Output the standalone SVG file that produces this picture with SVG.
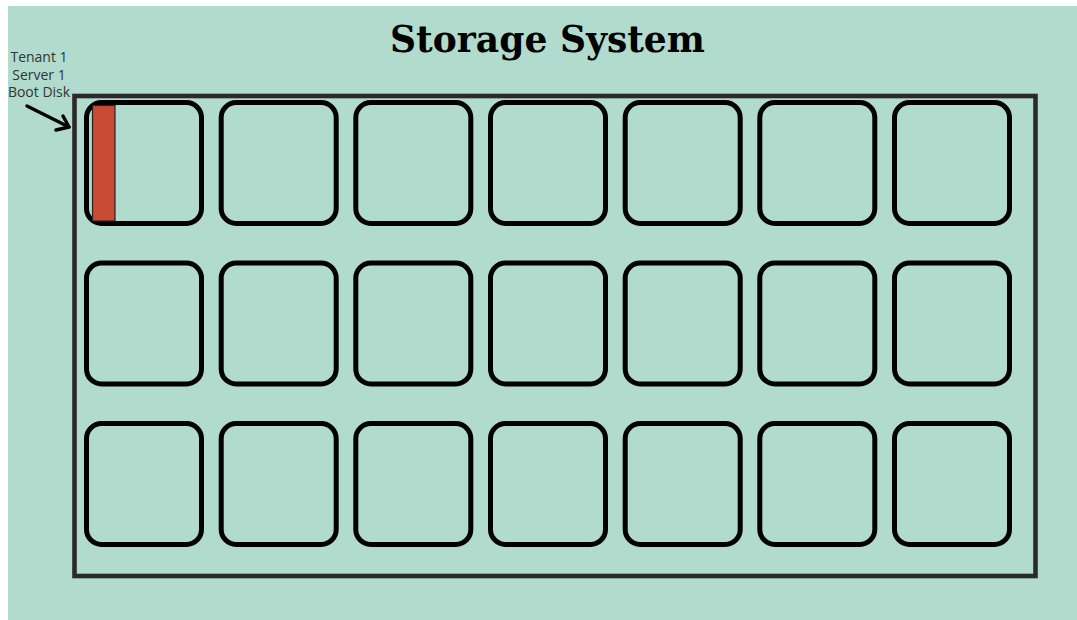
<svg xmlns="http://www.w3.org/2000/svg" width="1077" height="620" viewBox="0 0 1077 620">
  <style>
    .bay { fill: none; stroke: #000; stroke-width: 5; }
    .frame { fill: none; stroke: #2b2929; stroke-width: 4.6; }
    .title { font-family: "DejaVu Serif", "Liberation Serif", serif; font-weight: bold; font-size: 37px; fill: #000; }
    .label { font-family: "Open Sans", "Liberation Sans", sans-serif; font-size: 14px; fill: #333; text-anchor: middle; }
    .arrow { fill: none; stroke: #000; stroke-width: 3.4; stroke-linecap: round; stroke-linejoin: round; }
  </style>
  <defs>
    <rect id="bay" class="bay" width="115" height="121" rx="15" ry="15"/>
  </defs>

  <rect x="0" y="0" width="1077" height="620" fill="#ffffff"/>
  <rect x="8" y="6" width="1069" height="614" fill="#b1dbcc"/>

  <text class="title" x="390" y="52" textLength="315" lengthAdjust="spacingAndGlyphs">Storage System</text>

  <!-- enclosure -->
  <g id="enclosure">
    <rect class="frame" x="74.5" y="96" width="961" height="480"/>
  </g>

  <!-- row 1 -->
  <g id="bay-1-1"><use href="#bay" x="86.5" y="102.5"/></g>
  <g id="bay-1-2"><use href="#bay" x="221.2" y="102.5"/></g>
  <g id="bay-1-3"><use href="#bay" x="355.8" y="102.5"/></g>
  <g id="bay-1-4"><use href="#bay" x="490.5" y="102.5"/></g>
  <g id="bay-1-5"><use href="#bay" x="625.2" y="102.5"/></g>
  <g id="bay-1-6"><use href="#bay" x="759.8" y="102.5"/></g>
  <g id="bay-1-7"><use href="#bay" x="894.5" y="102.5"/></g>
  <!-- row 2 -->
  <g id="bay-2-1"><use href="#bay" x="86.5" y="263"/></g>
  <g id="bay-2-2"><use href="#bay" x="221.2" y="263"/></g>
  <g id="bay-2-3"><use href="#bay" x="355.8" y="263"/></g>
  <g id="bay-2-4"><use href="#bay" x="490.5" y="263"/></g>
  <g id="bay-2-5"><use href="#bay" x="625.2" y="263"/></g>
  <g id="bay-2-6"><use href="#bay" x="759.8" y="263"/></g>
  <g id="bay-2-7"><use href="#bay" x="894.5" y="263"/></g>
  <!-- row 3 -->
  <g id="bay-3-1"><use href="#bay" x="86.5" y="423.5"/></g>
  <g id="bay-3-2"><use href="#bay" x="221.2" y="423.5"/></g>
  <g id="bay-3-3"><use href="#bay" x="355.8" y="423.5"/></g>
  <g id="bay-3-4"><use href="#bay" x="490.5" y="423.5"/></g>
  <g id="bay-3-5"><use href="#bay" x="625.2" y="423.5"/></g>
  <g id="bay-3-6"><use href="#bay" x="759.8" y="423.5"/></g>
  <g id="bay-3-7"><use href="#bay" x="894.5" y="423.5"/></g>

  <!-- boot disk slice in the first bay -->
  <g id="boot-disk">
    <rect x="92.5" y="105.5" width="22.5" height="115.5" fill="#c94b33" stroke="#2a2020" stroke-width="1.2"/>
  </g>

  <!-- callout -->
  <g id="callout">
    <text class="label" x="39" y="62">Tenant 1</text>
    <text class="label" x="39" y="79.5">Server 1</text>
    <text class="label" x="39" y="97">Boot Disk</text>
  </g>
  <g id="connectors">
    <path class="arrow" d="M27 106 L69 127"/>
    <path class="arrow" d="M56 130 L69 127 L63 116"/>
  </g>
</svg>
